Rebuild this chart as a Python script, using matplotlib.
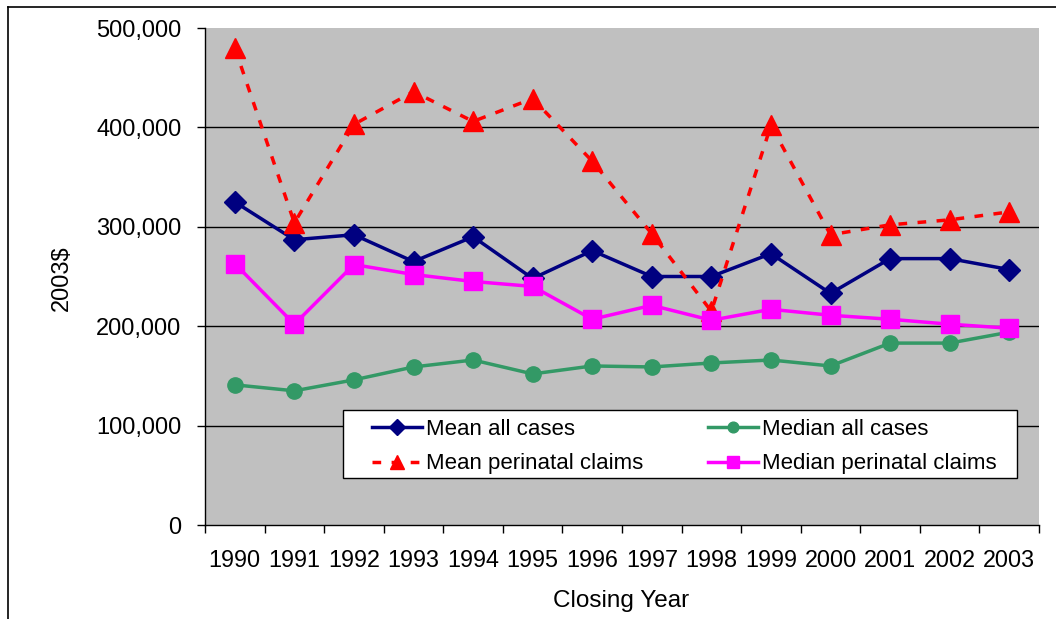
import matplotlib
matplotlib.use("Agg")
import matplotlib.pyplot as plt
from matplotlib.patches import Rectangle
from matplotlib.lines import Line2D
from matplotlib.ticker import FuncFormatter, FixedLocator
import numpy as np

plt.rcParams['font.family'] = ['Liberation Sans', 'DejaVu Sans']

years = ["1990", "1991", "1992", "1993", "1994", "1995", "1996",
         "1997", "1998", "1999", "2000", "2001", "2002", "2003"]
mean_all = [325000, 287000, 292000, 265000, 290000, 248000, 276000,
            250000, 250000, 273000, 233000, 268000, 268000, 257000]
median_all = [141000, 135000, 146000, 159000, 166000, 152000, 160000,
              159000, 163000, 166000, 160000, 183000, 183000, 194000]
mean_peri = [480000, 304000, 403000, 436000, 406000, 429000, 366000,
             293000, 215000, 402000, 292000, 302000, 307000, 315000]
median_peri = [263000, 202000, 262000, 252000, 245000, 240000, 207000,
               221000, 206000, 217000, 211000, 207000, 202000, 198000]

W, H = 1056, 619
fig = plt.figure(figsize=(W / 100, H / 100), dpi=100)
fig.patch.set_facecolor('white')

# outer frame (top and left visible)
fig.add_artist(Line2D([8 / W, 8 / W], [0, 1 - 7 / H], transform=fig.transFigure,
                      color='black', lw=1.2))
fig.add_artist(Line2D([8 / W, 1], [1 - 7 / H, 1 - 7 / H], transform=fig.transFigure,
                      color='black', lw=1.2))

L, R, T, B = 205, 1039, 28, 525
ax = fig.add_axes([L / W, 1 - B / H, (R - L) / W, (B - T) / H])
ax.set_facecolor('#C0C0C0')

x = np.arange(len(years))
ax.set_xlim(-0.5, len(years) - 0.5)
ax.set_ylim(0, 500000)

for yv in [100000, 200000, 300000, 400000]:
    ax.axhline(yv, color='black', lw=1.0, zorder=1)

ax.plot(x, mean_all, color='#000080', lw=2.5, marker='D', markersize=11,
        zorder=3, label='Mean all cases')
ax.plot(x, median_all, color='#339966', lw=2.5, marker='o', markersize=11,
        zorder=3, label='Median all cases')
ax.plot(x, mean_peri, color='#FF0000', lw=2.5, ls=(0, (2.5, 3)), marker='^',
        markersize=14, zorder=4, label='Mean perinatal claims')
ax.plot(x, median_peri, color='#FF00FF', lw=2.5, marker='s', markersize=12.5,
        zorder=5, label='Median perinatal claims')

for s in ['top', 'right']:
    ax.spines[s].set_visible(False)
ax.spines['left'].set_color('black')
ax.spines['bottom'].set_color('black')
ax.spines['left'].set_linewidth(1.0)
ax.spines['bottom'].set_linewidth(1.0)

ax.yaxis.set_major_locator(FixedLocator([0, 100000, 200000, 300000, 400000, 500000]))
ax.yaxis.set_major_formatter(FuncFormatter(lambda v, p: f"{int(v):,}"))
ax.tick_params(axis='y', direction='out', length=6, width=1, pad=11, labelsize=17)

ax.set_xticks(np.arange(-0.5, len(years), 1.0))
ax.set_xticklabels([])
ax.set_xticks(x, minor=True)
ax.set_xticklabels(years, minor=True)
ax.tick_params(axis='x', which='major', direction='out', length=6, width=1)
ax.tick_params(axis='x', which='minor', length=0, pad=17, labelsize=16.8)

fig.text(62 / W, 1 - 278 / H, "2003$", rotation=90, ha='center', va='center', fontsize=17)
fig.text(621 / W, 1 - 601 / H, "Closing Year", ha='center', va='center', fontsize=17.5)

# legend box
lx0, lx1, ly0, ly1 = 343, 1017, 410, 478
fig.add_artist(Rectangle((lx0 / W, 1 - ly1 / H), (lx1 - lx0) / W, (ly1 - ly0) / H,
                         transform=fig.transFigure, facecolor='white',
                         edgecolor='black', lw=1.0, zorder=6))
h, l = ax.get_legend_handles_labels()
order = [0, 2, 1, 3]
leg = fig.legend([h[i] for i in order], [l[i] for i in order], ncol=2,
                 loc='upper left', bbox_to_anchor=(372 / W, 1 - 419 / H),
                 frameon=False, fontsize=16, borderpad=0, borderaxespad=0,
                 handlelength=2.25, handletextpad=0.18, columnspacing=2.9,
                 labelspacing=0.6, markerscale=0.7)
leg.set_zorder(7)

fig.savefig("out.png", dpi=100)
